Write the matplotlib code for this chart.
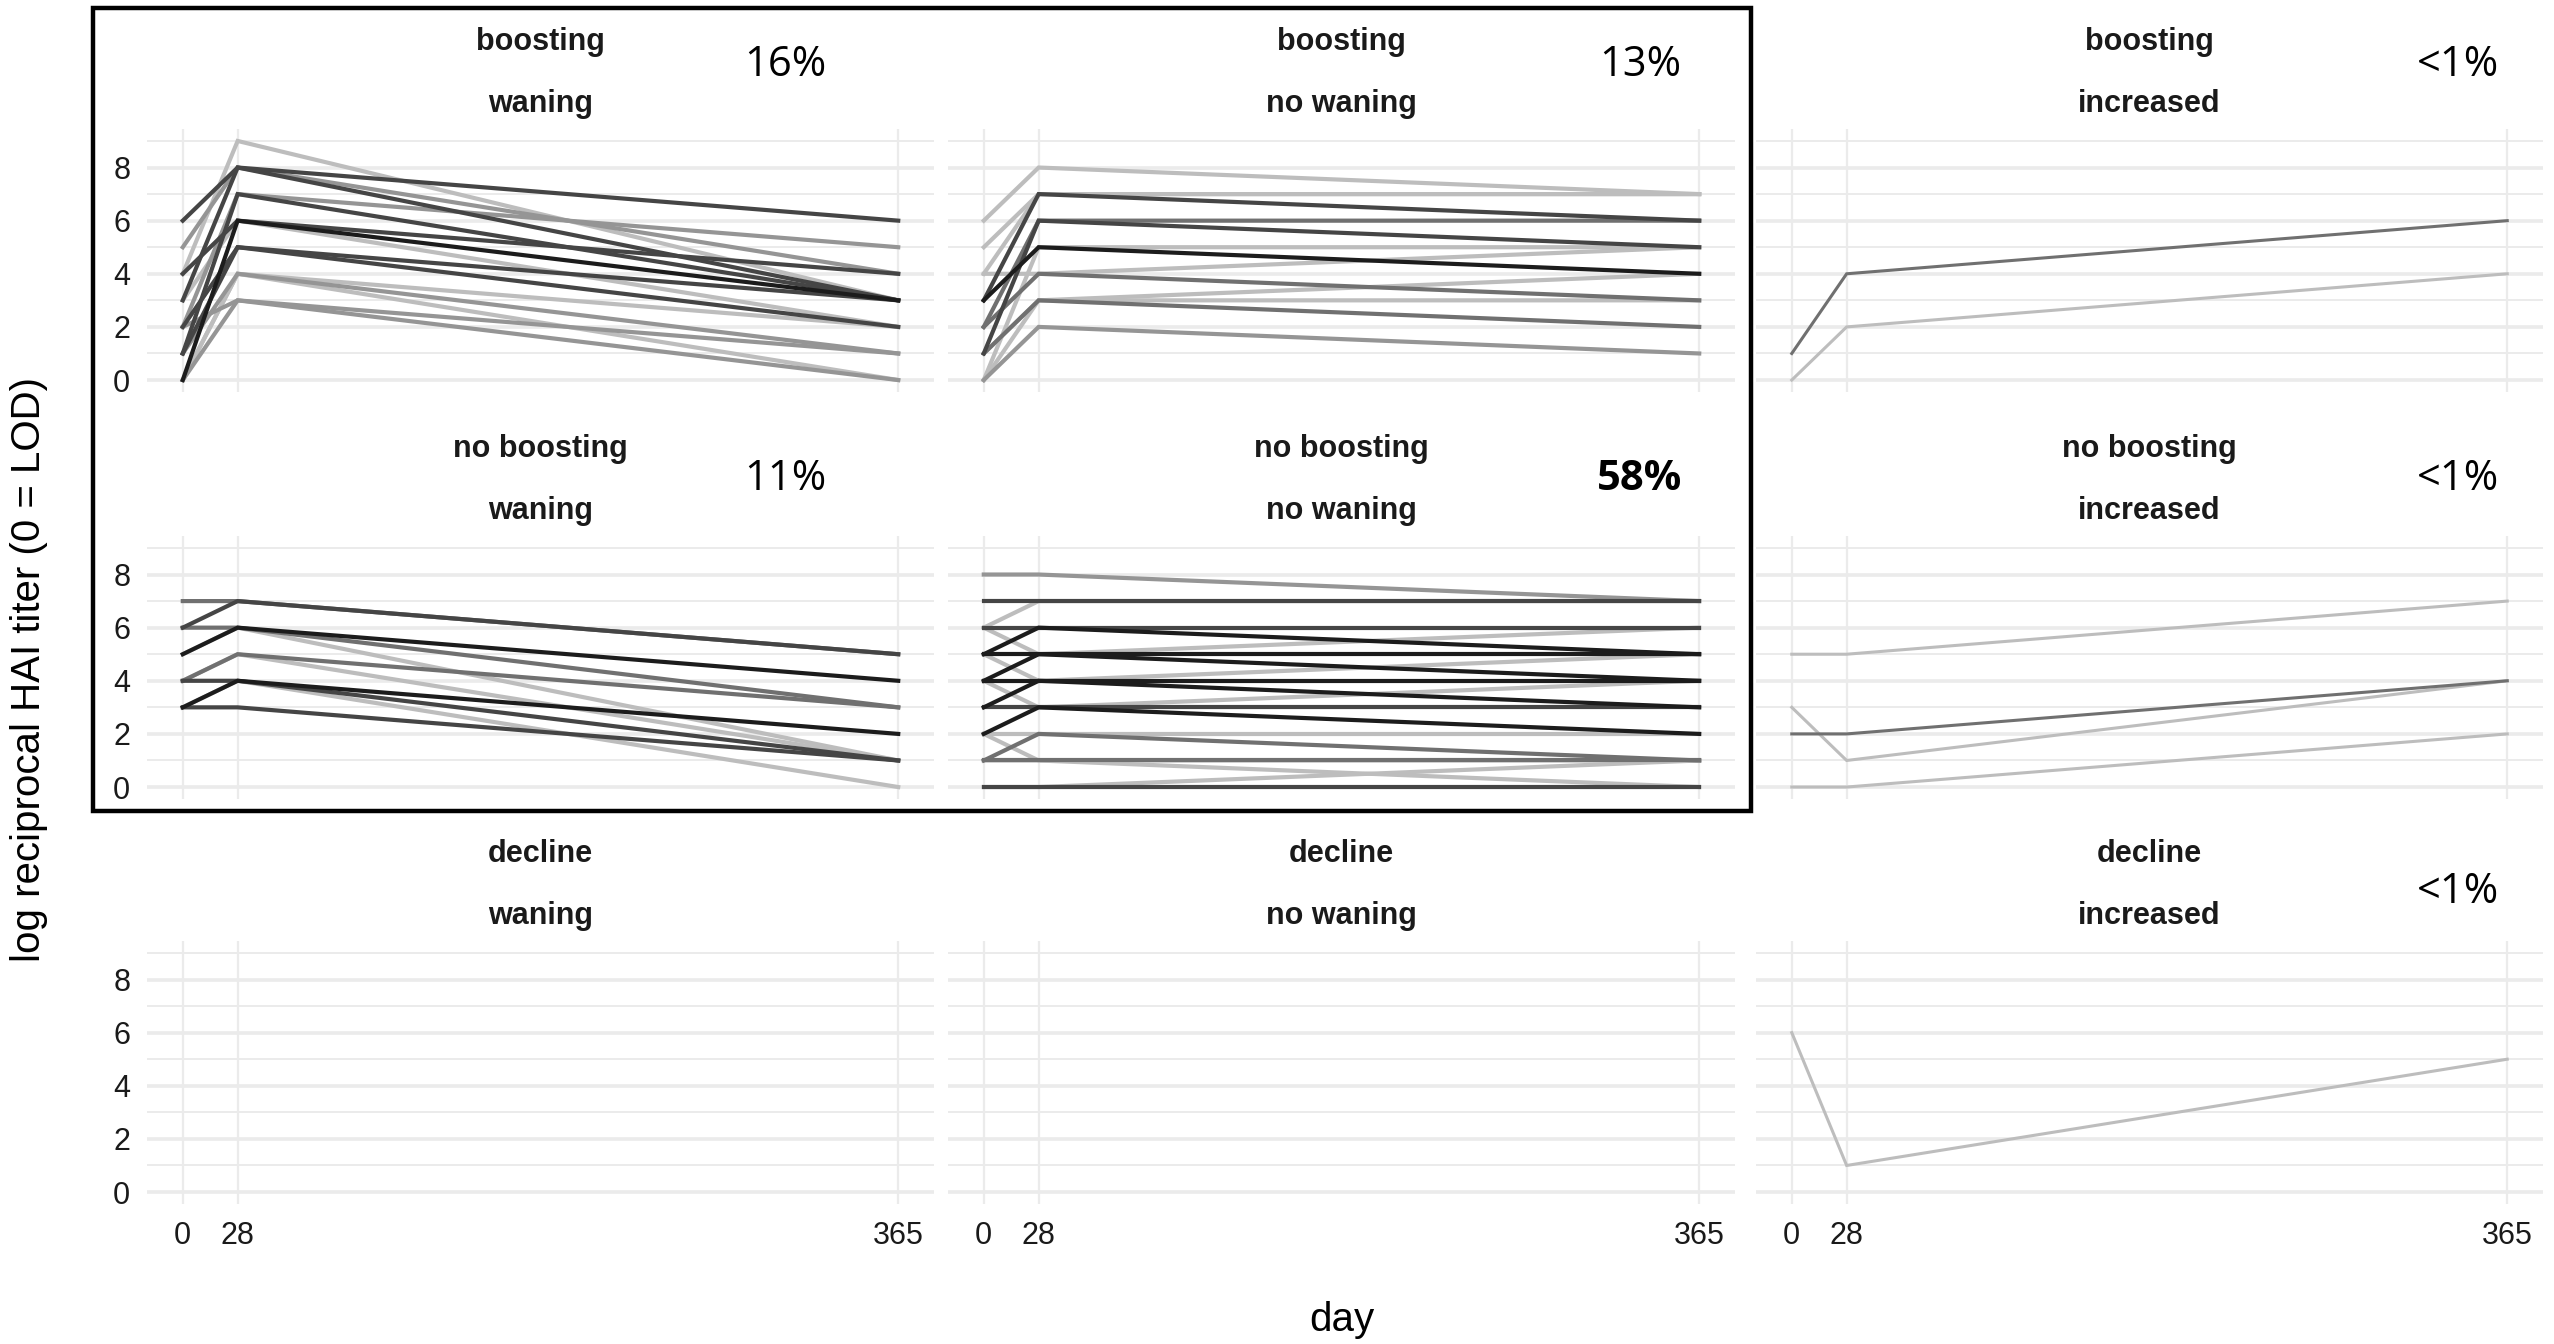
import matplotlib
matplotlib.use("Agg")
import matplotlib.pyplot as plt
from matplotlib.patches import Rectangle

days = [0, 28, 365]
row_names = ["boosting", "no boosting", "decline"]
col_names = ["waning", "no waning", "increased"]
pct = [["16%", "13%", "<1%"],
       ["11%", "58%", "<1%"],
       ["", "", "<1%"]]

# log reciprocal HAI titer per subject at day 0, 28, 365 (0 = LOD)
# shade: 0 = black ... 4 = light grey
bw_d0 = [4, 6, 5, 3, 2, 1, 4, 3, 0, 2, 1, 0, 1, 0, 0, 2]
bw_d28 = [9, 8, 8, 8, 7, 7, 6, 6, 6, 5, 5, 4, 4, 4, 3, 3]
bw_d365 = [3, 6, 4, 3, 5, 3, 4, 2, 3, 2, 3, 2, 1, 0, 0, 1]
bw_shade = [4, 1, 3, 1, 3, 1, 1, 4, 0, 1, 1, 4, 3, 4, 3, 3]

bnw_d0 = [6, 5, 4, 3, 2, 1, 3, 0, 2, 4, 0, 1, 1, 0]
bnw_d28 = [8, 7, 7, 7, 6, 6, 5, 5, 4, 4, 3, 3, 3, 2]
bnw_d365 = [7, 7, 7, 6, 6, 5, 4, 5, 3, 5, 4, 3, 2, 1]
bnw_shade = [4, 4, 4, 1, 2, 1, 0, 4, 2, 4, 4, 4, 2, 3]

bi_d0 = [1, 0]
bi_d28 = [4, 2]
bi_d365 = [6, 4]
bi_shade = [2, 4]

nbw_d0 = [7, 6, 5, 6, 4, 5, 4, 3, 4, 3, 3]
nbw_d28 = [7, 7, 6, 6, 5, 6, 5, 4, 4, 4, 3]
nbw_d365 = [5, 5, 4, 3, 3, 1, 1, 2, 1, 0, 1]
nbw_shade = [2, 1, 0, 2, 2, 4, 4, 0, 1, 4, 1]

nbnw_d0 = [8, 7, 6, 6, 5, 6, 4, 5, 5, 4, 3, 4, 3, 2, 2, 1, 2, 1, 1, 0, 0]
nbnw_d28 = [8, 7, 7, 6, 6, 5, 5, 5, 4, 4, 4, 3, 3, 3, 2, 2, 1, 1, 1, 0, 0]
nbnw_d365 = [7, 7, 7, 6, 5, 6, 4, 5, 5, 4, 3, 4, 3, 2, 2, 1, 1, 1, 0, 1, 0]
nbnw_shade = [3, 1, 4, 1, 0, 4, 0, 0, 4, 0, 0, 4, 1, 0, 4, 2, 4, 2, 4, 4, 1]

nbi_d0 = [5, 2, 3, 0]
nbi_d28 = [5, 2, 1, 0]
nbi_d365 = [7, 4, 4, 2]
nbi_shade = [4, 2, 4, 4]

di_d0 = [6]
di_d28 = [1]
di_d365 = [5]
di_shade = [4]

panels = {
    (0, 0): (bw_d0, bw_d28, bw_d365, bw_shade),
    (0, 1): (bnw_d0, bnw_d28, bnw_d365, bnw_shade),
    (0, 2): (bi_d0, bi_d28, bi_d365, bi_shade),
    (1, 0): (nbw_d0, nbw_d28, nbw_d365, nbw_shade),
    (1, 1): (nbnw_d0, nbnw_d28, nbnw_d365, nbnw_shade),
    (1, 2): (nbi_d0, nbi_d28, nbi_d365, nbi_shade),
    (2, 2): (di_d0, di_d28, di_d365, di_shade),
}

greys = ["#1c1c1c", "#454545", "#707070", "#959595", "#bdbdbd"]

W, H = 2554, 1344
fig = plt.figure(figsize=(W / 200, H / 200), dpi=200)

col_left = [147, 948, 1756]   # px
row_top = [129, 536, 941]
pw, ph = 787, 263
pct_x = [785, 1640, 2458]
pct_y = [65, 479, 892]

for r in range(3):
    for c in range(3):
        ax = fig.add_axes([col_left[c] / W, 1 - (row_top[r] + ph) / H, pw / W, ph / H])
        ax.set_xlim(-18.25, 383.25)
        ax.set_ylim(-0.45, 9.45)
        for y in [1, 3, 5, 7, 9]:
            ax.axhline(y, color="#ebebeb", lw=0.7, zorder=0)
        for y in [0, 2, 4, 6, 8]:
            ax.axhline(y, color="#ebebeb", lw=1.3, zorder=0)
        for x in days:
            ax.axvline(x, color="#ebebeb", lw=0.8, zorder=0)
        for s in ax.spines.values():
            s.set_visible(False)
        ax.set_xticks(days)
        ax.set_yticks([0, 2, 4, 6, 8])
        ax.tick_params(length=0, labelsize=11, colors="#1a1a1a", pad=6)
        if c != 0:
            ax.set_yticklabels([])
        if r != 2:
            ax.set_xticklabels([])
        for lab in ax.get_xticklabels() + ax.get_yticklabels():
            lab.set_fontfamily("Liberation Sans")

        if (r, c) in panels:
            d0, d28, d365, shade = panels[(r, c)]
            lw = 1.1 if c == 2 else 1.5
            for i in range(len(d0)):
                ax.plot(days, [d0[i], d28[i], d365[i]], color=greys[shade[i]],
                        lw=lw, zorder=2 + (4 - shade[i]) * 0.1,
                        solid_joinstyle="miter")

        cx = (col_left[c] + pw / 2) / W
        fig.text(cx, 1 - (row_top[r] - 87) / H, row_names[r], ha="center", va="center",
                 fontsize=11, fontweight="bold", color="#1a1a1a", family="Liberation Sans")
        fig.text(cx, 1 - (row_top[r] - 25) / H, col_names[c], ha="center", va="center",
                 fontsize=11, fontweight="bold", color="#1a1a1a", family="Liberation Sans")
        if pct[r][c]:
            fig.text(pct_x[c] / W, 1 - pct_y[r] / H, pct[r][c], ha="center", va="center",
                     fontsize=15, family="Open Sans",
                     fontweight="bold" if pct[r][c] == "58%" else "normal")

fig.text(29 / W, 0.502, "log reciprocal HAI titer (0 = LOD)", rotation=90,
         ha="center", va="center", fontsize=14.5, family="Liberation Sans")
fig.text(1342 / W, 1 - 1320 / H, "day", ha="center", va="center",
         fontsize=14.5, family="Liberation Sans")

fig.add_artist(Rectangle((93 / W, 1 - 811 / H), (1751 - 93) / W, (811 - 8) / H,
                         transform=fig.transFigure, fill=False, lw=1.6, ec="black"))

fig.savefig("out.png", dpi=200, facecolor="white")
